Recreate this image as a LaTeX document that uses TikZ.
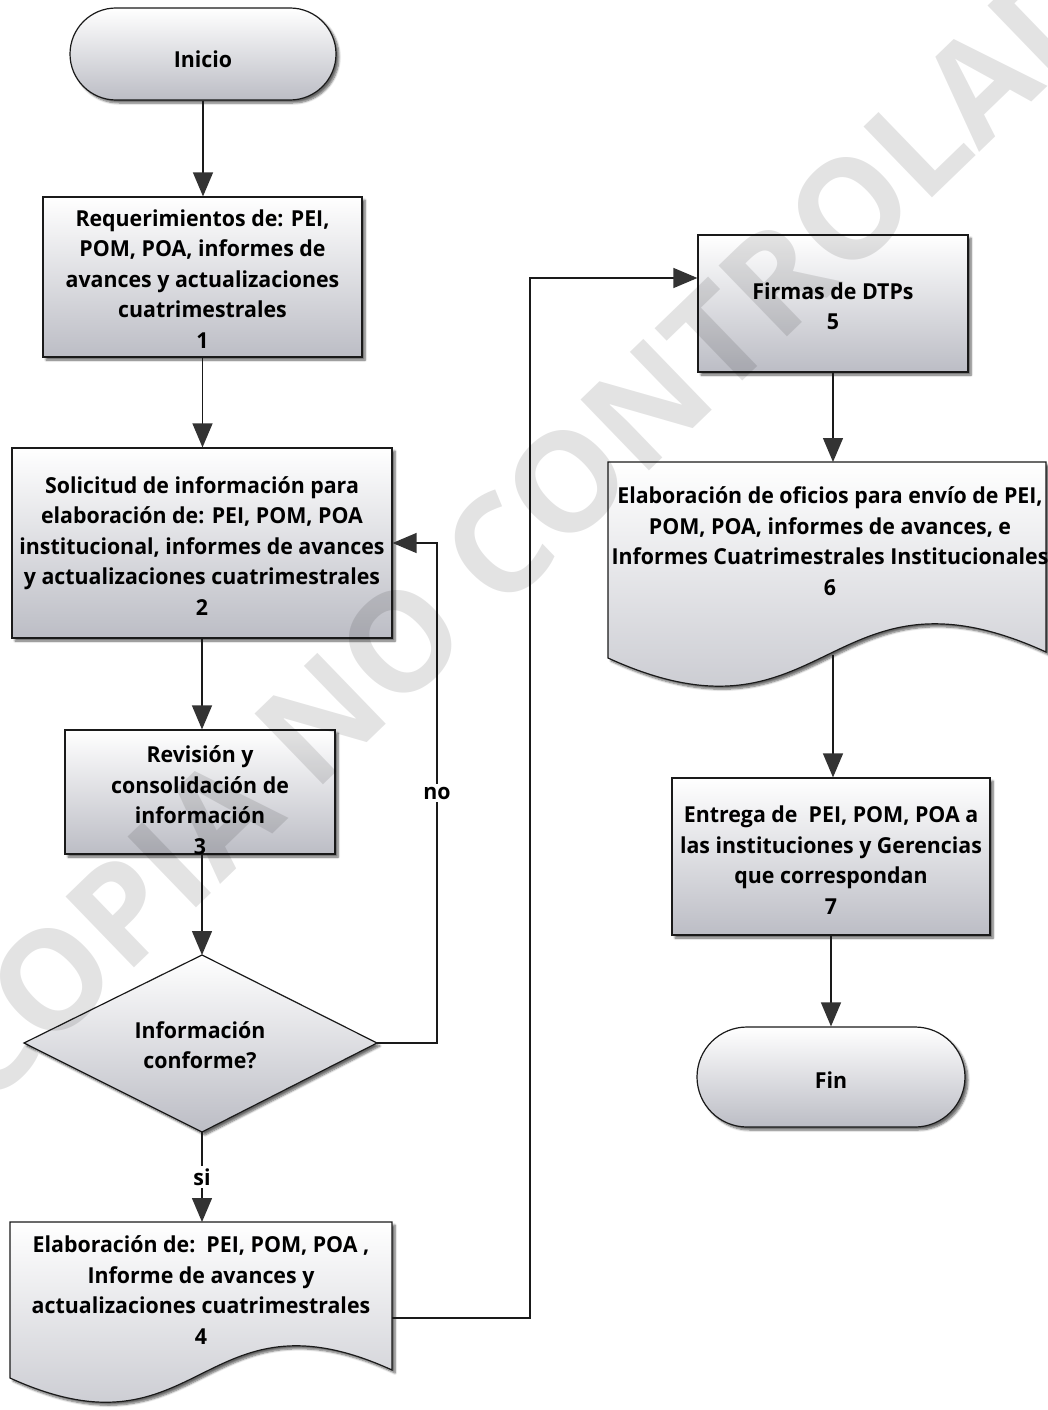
\documentclass[tikz,border=0pt]{standalone}
\usepackage{fontspec}
\setmainfont{Open Sans}[FakeStretch=0.97]
\newfontfamily\wmfont{Open Sans}
\usetikzlibrary{arrows.meta,shadows.blur}
\definecolor{boxbot}{HTML}{BCBDC5}
\definecolor{boxmid}{HTML}{E2E2E6}
\definecolor{linec}{HTML}{1A1A1A}
\definecolor{arrowc}{HTML}{333333}
\begin{document}
\begin{tikzpicture}[x=1pt,y=-1pt,
  txt/.style={font=\fontsize{22}{30.5}\selectfont\bfseries, align=center, text=black, inner sep=0pt},
  shadefill/.style={top color=white, middle color=boxmid, bottom color=boxbot},
  shad/.style={blur shadow={shadow xshift=3pt, shadow yshift=-3pt, shadow blur steps=6, shadow opacity=60}},
  shapebox/.style={draw=linec, line width=1.2pt, shadefill, shad},
  procbox/.style={shapebox, rectangle, inner sep=0pt},
  termbox/.style={shapebox, rectangle, rounded corners=46pt, inner sep=0pt},
  arr/.style={draw=linec, line width=1.3pt, -{Triangle[length=24pt,width=20pt,fill=arrowc,color=arrowc]}},
  lbl/.style={txt, fill=white, inner sep=3pt}
]
\useasboundingbox (0,0) rectangle (1048,1410);

% left column
\node[termbox, minimum width=266pt, minimum height=92pt] (ini) at (203,54) {};
\node[txt] at (203,59) {Inicio};

\node[procbox, minimum width=319pt, minimum height=160pt] (b1) at (202.5,277) {};
\node[txt] at (202.5,279) {Requerimientos de: PEI,\\POM, POA, informes de\\avances y actualizaciones\\cuatrimestrales\\1};

\node[procbox, minimum width=380pt, minimum height=190pt] (b2) at (202,543) {};
\node[txt] at (202,546) {Solicitud de información para\\elaboración de: PEI, POM, POA\\institucional, informes de avances\\y actualizaciones cuatrimestrales\\2};

\node[procbox, minimum width=270pt, minimum height=124pt] (b3) at (200,792) {};
\node[txt] at (200,800) {Revisión y\\consolidación de\\información\\3};

\path[shapebox] (202,955) -- (377,1043) -- (202,1132) -- (24,1043) -- cycle;
\coordinate (dn) at (202,955);
\coordinate (de) at (377,1043);
\coordinate (ds) at (202,1132);
\node[txt] (dt) at (200,1045) {Información\\conforme?};

\path[shapebox] (10,1222) -- (392,1222) -- (392,1370) .. controls (201,1283) and (201,1465) .. (10,1378) -- cycle;
\coordinate (b4n) at (202,1222);
\coordinate (b4e) at (392,1318);
\node[txt] (b4t) at (201,1290) {Elaboración de:\ \ PEI, POM, POA ,\\Informe de avances y\\actualizaciones cuatrimestrales\\4};

% right column
\node[procbox, minimum width=270pt, minimum height=137pt] (b5) at (833,303.5) {};
\node[txt] at (833,306) {Firmas de DTPs\\5};

\path[shapebox] (608,462) -- (1046,462) -- (1046,652) .. controls (827,552) and (827,758) .. (608,658) -- cycle;
\coordinate (b6n) at (833,462);
\coordinate (b6s) at (833,655);
\node[txt] (b6t) at (830,541) {Elaboración de oficios para envío de PEI,\\POM, POA, informes de avances, e\\Informes Cuatrimestrales Institucionales\\6};

\node[procbox, minimum width=318pt, minimum height=157pt] (b7) at (831,856.5) {};
\node[txt] at (831,860) {Entrega de\ \ PEI, POM, POA a\\las instituciones y Gerencias\\que correspondan\\7};

\node[termbox, rounded corners=50pt, minimum width=268pt, minimum height=100pt] (fin) at (831,1077) {};
\node[txt] at (831,1080) {Fin};

% connectors
\coordinate (loopc) at (437,543);
\coordinate (upc) at (530,278);
\draw[arr] (ini.south) -- (ini.south |- b1.north);
\draw[arr] (b1.south) -- (b1.south |- b2.north);
\draw[arr] (b2.south) -- (b2.south |- b3.north);
\draw[arr] (b3.south -| dn) -- (dn);
\draw[arr] (ds) -- node[lbl] {si} (b4n);
\draw[arr] (de) -| node[lbl, pos=0.75] {no} (loopc) -- (b2.east |- loopc);
\draw[arr] (b4e) -| (upc) -- (b5.west |- upc);
\draw[arr] (b5.south -| b6n) -- (b6n);
\draw[arr] (b6s) -- (b6s |- b7.north);
\draw[arr] (b7.south) -- (b7.south |- fin.north);

% watermark
\node[rotate=44, opacity=0.11, text=black, font=\wmfont\fontsize{138}{138}\selectfont\bfseries, inner sep=0pt] (wm) at (552,496) {COPIA NO CONTROLADA};
\end{tikzpicture}
\end{document}
